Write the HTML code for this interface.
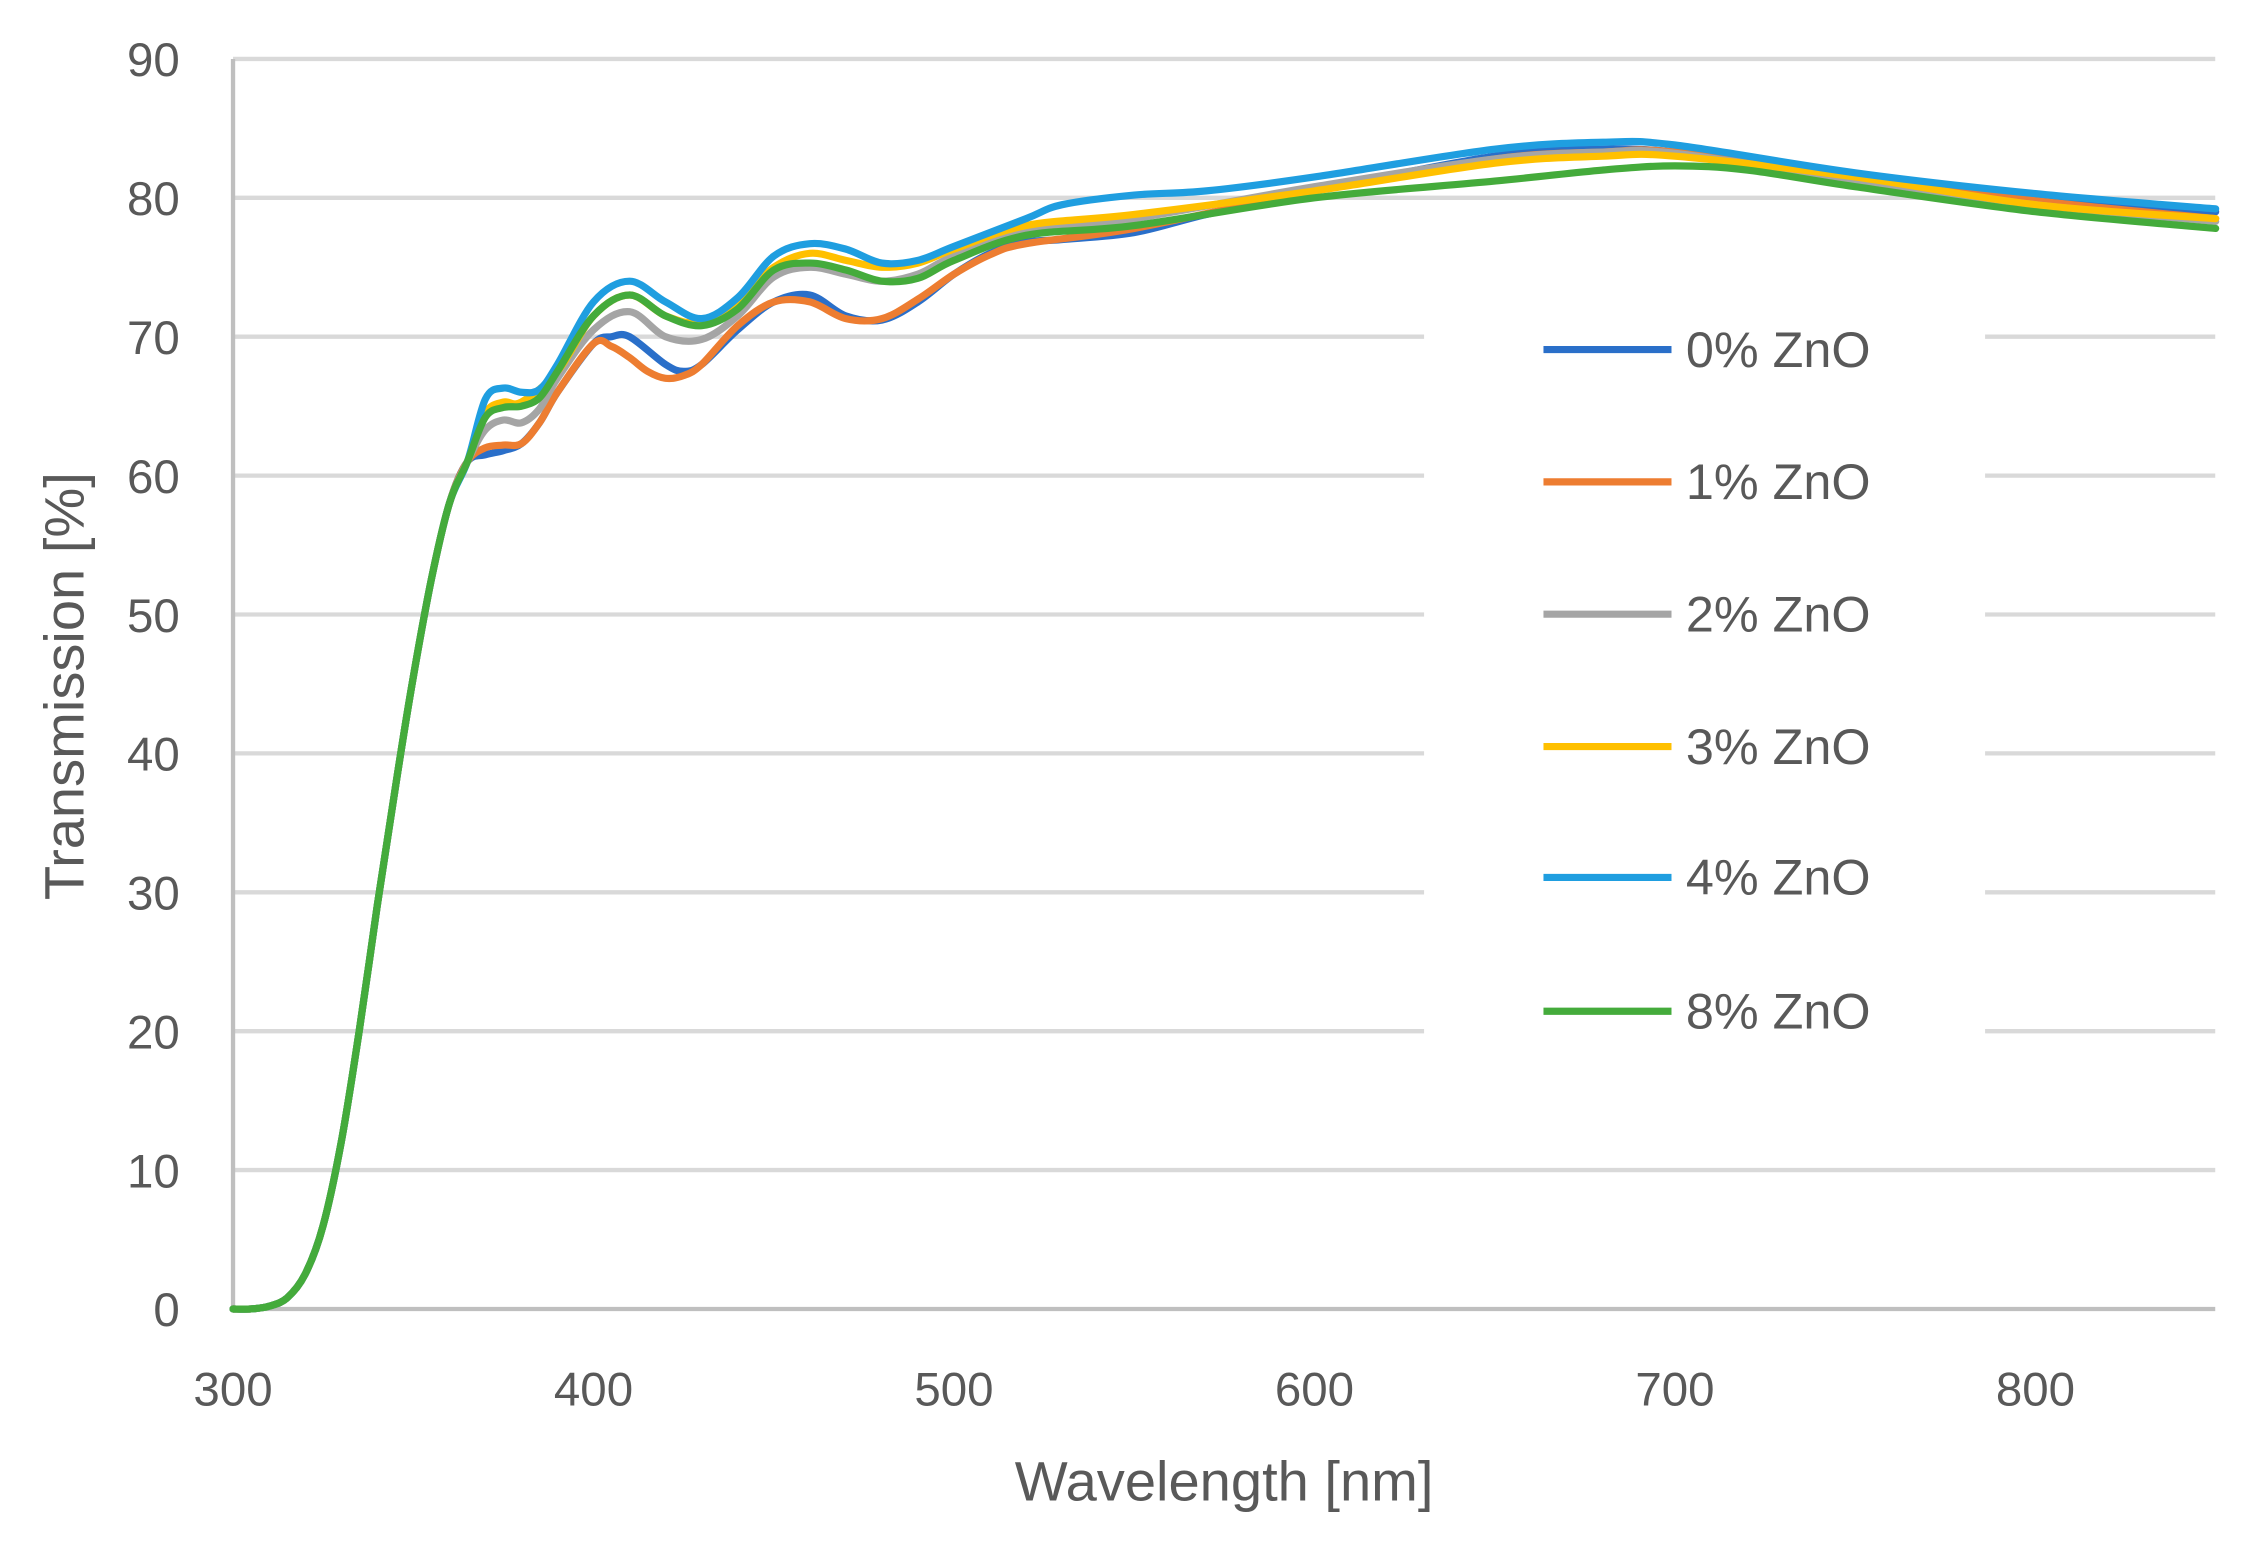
<!DOCTYPE html>
<html><head><meta charset="utf-8"><style>html,body{margin:0;padding:0;background:#fff}svg{display:block}</style></head>
<body>
<svg id="s" width="2244" height="1542" viewBox="0 0 1560 1072" preserveAspectRatio="none" xmlns="http://www.w3.org/2000/svg" font-family="Liberation Sans, sans-serif">
<rect width="1560" height="1072" fill="#fff"/>
<g id="grid" stroke="#d9d9d9" stroke-width="3"></g>
<line x1="162" y1="41" x2="162" y2="910" stroke="#bfbfbf" stroke-width="3"/>
<line x1="162" y1="910" x2="1540" y2="910" stroke="#bfbfbf" stroke-width="3"/>
<g id="ylab" fill="#595959" font-size="33" text-anchor="end"></g>
<g id="xlab" fill="#595959" font-size="33" text-anchor="middle"></g>
<text x="851" y="1043" fill="#595959" font-size="39" text-anchor="middle">Wavelength [nm]</text>
<text transform="translate(58,477) rotate(-90)" fill="#595959" font-size="39" text-anchor="middle">Transmission [%]</text>
<g id="curves" fill="none" stroke-width="5" stroke-linejoin="round" stroke-linecap="round"></g>
<g id="leg" font-size="35" fill="#595959"></g>
</svg>
<script>
var NS="http://www.w3.org/2000/svg";
function el(p,t,a,txt){var e=document.createElementNS(NS,t);for(var k in a)e.setAttribute(k,a[k]);if(txt)e.textContent=txt;document.getElementById(p).appendChild(e);}
function X(w){return 162+(w-300)*2.506;}
function Y(t){return 910-t*9.656;}
for(var t=10;t<=90;t+=10){var y=Y(t);
 if(y>200&&y<740){el("grid","line",{x1:162,y1:y,x2:990,y2:y});el("grid","line",{x1:1380,y1:y,x2:1540,y2:y});}
 else el("grid","line",{x1:162,y1:y,x2:1540,y2:y});}
for(var t=0;t<=90;t+=10)el("ylab","text",{x:125,y:Y(t)+12},String(t));
for(var w=300;w<=800;w+=100)el("xlab","text",{x:X(w),y:977},String(w));
var base=[[300,0],[305,0],[310,0.2],[315,0.8],[320,2.5],[325,6],[330,12],[335,20],[340,29],[345,37.5],[350,45.5],[355,52.5],[360,58],[365,61]];
var S=[
["#2a6fc9",[[370,61.5],[375,61.8],[380,62.3],[385,63.8],[390,66],[400,69.5],[405,70],[410,70],[420,68],[425,67.5],[430,68],[440,70.5],[450,72.5],[460,73],[470,71.5],[480,71.2],[490,72.5],[500,74.5],[510,76],[520,76.8],[530,77],[550,77.5],[570,78.8],[600,80.5],[650,83],[680,83.5],[700,83.3],[720,82.5],[750,81.5],[800,80],[850,79]]],
["#ed7d31",[[370,62],[375,62.2],[380,62.3],[385,63.8],[390,66],[400,69.5],[405,69.3],[410,68.5],[415,67.5],[420,67],[425,67.2],[430,68],[440,70.8],[450,72.5],[460,72.5],[470,71.3],[480,71.3],[490,72.7],[500,74.5],[510,75.9],[520,76.7],[550,77.8],[600,80.5],[650,82.8],[680,83.3],[700,83.3],[750,81.5],[800,79.8],[850,78.5]]],
["#a5a5a5",[[370,63.3],[375,64],[380,63.8],[385,64.8],[390,67],[400,70.5],[410,71.8],[420,70],[430,69.8],[440,71.5],[450,74.3],[460,75],[470,74.5],[480,74],[490,74.5],[500,75.8],[520,77.5],[550,78.5],[600,80.8],[650,82.8],[680,83.3],[700,83.2],[750,81.3],[800,79.5],[850,78.3]]],
["#ffc000",[[370,64.5],[375,65.3],[380,65.3],[390,67.5],[400,71.5],[410,73],[420,71.5],[430,71],[440,72.5],[450,75],[460,76],[470,75.5],[480,75],[490,75.3],[500,76.3],[520,78],[550,78.8],[600,80.5],[650,82.5],[680,83],[700,83],[750,81.5],[800,79.5],[850,78.5]]],
["#1f9ee0",[[370,65.5],[375,66.3],[380,66],[385,66.2],[390,68],[400,72.5],[410,74],[420,72.5],[430,71.3],[440,72.8],[450,75.8],[460,76.7],[470,76.3],[480,75.3],[490,75.5],[500,76.5],[520,78.5],[530,79.5],[550,80.2],[570,80.5],[600,81.5],[650,83.5],[680,84],[700,83.8],[750,81.8],[800,80.3],[850,79.2]]],
["#44ab3b",[[370,64.2],[375,64.9],[380,65],[385,65.6],[390,67.5],[400,71.5],[410,73],[420,71.5],[430,70.8],[440,72],[450,74.8],[460,75.3],[470,74.8],[480,74],[490,74.2],[500,75.5],[520,77.3],[550,78],[600,80],[650,81.2],[680,82],[700,82.3],[720,82],[750,80.8],[800,79],[850,77.8]]]];
function path(pts){var P=pts.map(function(p){return [X(p[0]),Y(p[1])];});var d="M"+P[0][0]+","+P[0][1];
 for(var i=0;i<P.length-1;i++){var p0=P[Math.max(i-1,0)],p1=P[i],p2=P[i+1],p3=P[Math.min(i+2,P.length-1)];
 var c1x=p1[0]+(p2[0]-p0[0])/6,c1y=p1[1]+(p2[1]-p0[1])/6,c2x=p2[0]-(p3[0]-p1[0])/6,c2y=p2[1]-(p3[1]-p1[1])/6;
 d+=" C"+c1x.toFixed(1)+","+c1y.toFixed(1)+" "+c2x.toFixed(1)+","+c2y.toFixed(1)+" "+p2[0].toFixed(1)+","+p2[1].toFixed(1);}
 return d;}
var names=["0% ZnO","1% ZnO","2% ZnO","3% ZnO","4% ZnO","8% ZnO"],ly=[243,335,427,519,610,703];
S.forEach(function(s,i){el("curves","path",{d:path(base.concat(s[1])),stroke:s[0]});
 el("leg","line",{x1:1073,y1:ly[i],x2:1162,y2:ly[i],stroke:s[0],"stroke-width":5});
 el("leg","text",{x:1172,y:ly[i]+12},names[i]);});
</script>
</body></html>
